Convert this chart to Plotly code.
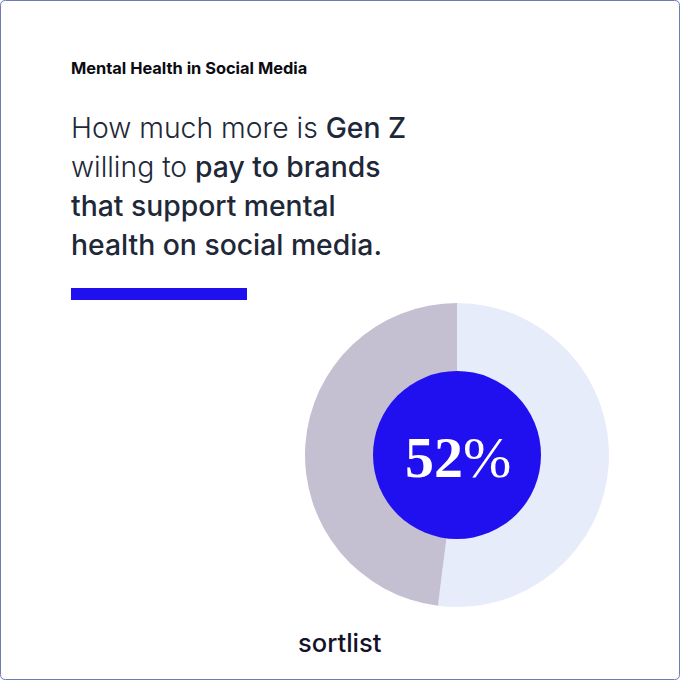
import plotly.graph_objects as go

# pie values
segments = ["Willing to pay more", "Others"]
shares = [52, 48]
segment_colors = ["#E7ECFB", "#C4C0D2"]

heading = "Mental Health in Social Media"
brand = "sortlist"
body_lines = [
    "How much more is <span style='font-weight:500'>Gen Z</span>",
    "willing to <span style='font-weight:500'>pay to brands</span>",
    "<span style='font-weight:500'>that support mental</span>",
    "<span style='font-weight:500'>health on social media.</span>",
]
body_y = [128, 167, 206, 245]

SIZE = 680
BLUE = "#2010F0"
INK = "#1E2838"


def px_x(x):
    return x / SIZE


def px_y(y):
    return 1 - y / SIZE


def rounded_card(left, top, right, bottom, r):
    x0, x1, y0, y1 = px_x(left), px_x(right), px_y(bottom), px_y(top)
    rx, ry = r / SIZE, r / SIZE
    return (
        f"M {x0 + rx} {y1} L {x1 - rx} {y1} Q {x1} {y1} {x1} {y1 - ry} "
        f"L {x1} {y0 + ry} Q {x1} {y0} {x1 - rx} {y0} "
        f"L {x0 + rx} {y0} Q {x0} {y0} {x0} {y0 + ry} "
        f"L {x0} {y1 - ry} Q {x0} {y1} {x0 + rx} {y1} Z"
    )


fig = go.Figure(
    go.Pie(
        labels=segments,
        values=shares,
        sort=False,
        direction="clockwise",
        rotation=0,
        textinfo="none",
        hoverinfo="none",
        marker={"colors": segment_colors, "line": {"width": 0}},
        domain={"x": [px_x(305), px_x(609)], "y": [px_y(607), px_y(303)]},
        showlegend=False,
    )
)

# Card border, blue bar and the circle in the middle of the pie
fig.add_shape(
    type="path", xref="paper", yref="paper",
    path=rounded_card(0.5, 0.5, 679.5, 679.5, 5),
    line={"color": "#6F79B5", "width": 1}, fillcolor="rgba(0,0,0,0)",
)
fig.add_shape(
    type="rect", xref="paper", yref="paper",
    x0=px_x(71), x1=px_x(247), y0=px_y(300), y1=px_y(288),
    line={"width": 0}, fillcolor=BLUE,
)
fig.add_shape(
    type="circle", xref="paper", yref="paper",
    x0=px_x(373), x1=px_x(541), y0=px_y(539), y1=px_y(371),
    line={"width": 0}, fillcolor=BLUE,
)

fig.add_annotation(
    text=f"<b>{heading}</b>", x=px_x(70), y=px_y(68),
    font={"family": "Inter", "size": 16.4, "color": "#0B0B12"},
)
for line, y in zip(body_lines, body_y):
    fig.add_annotation(
        text=line, x=px_x(70), y=px_y(y),
        font={"family": "Inter", "size": 28.3, "color": INK, "weight": 300},
    )
fig.add_annotation(
    text="<b>52</b>%",
    x=px_x(404), y=px_y(457),
    font={"family": "Liberation Serif", "size": 58, "color": "#FFFFFF"},
)
fig.add_annotation(
    text=brand, x=px_x(297), y=px_y(642),
    font={"family": "Inter", "size": 25.5, "color": "#14122B", "weight": 500},
)

fig.update_annotations(
    xref="paper", yref="paper", xanchor="left", yanchor="middle",
    showarrow=False, borderpad=0,
)

fig.update_layout(
    width=SIZE,
    height=SIZE,
    margin={"l": 0, "r": 0, "t": 0, "b": 0},
    paper_bgcolor="#FFFFFF",
    plot_bgcolor="#FFFFFF",
)

fig.write_html(
    "out.html",
    config={"displayModeBar": False},
    post_script="document.body.style.margin = '0'; document.body.style.overflow = 'hidden';",
)
